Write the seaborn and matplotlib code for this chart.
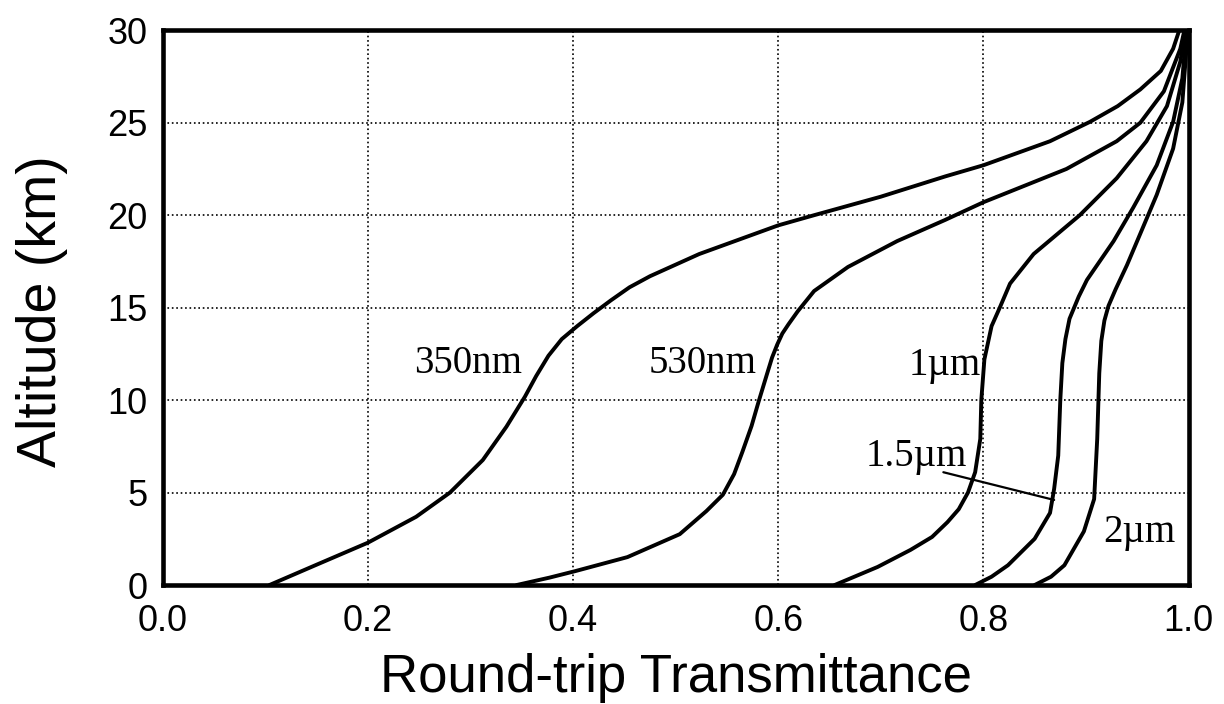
import numpy as np
import pandas as pd
import matplotlib
matplotlib.use("Agg")
import matplotlib.pyplot as plt
import seaborn as sns

# curves: round-trip transmittance vs altitude (km)
t_350 = [0.104, 0.15, 0.20, 0.247, 0.28, 0.312, 0.335, 0.353, 0.364, 0.376, 0.389, 0.404,
         0.42, 0.437, 0.455, 0.475, 0.523, 0.60, 0.635, 0.70, 0.763, 0.80, 0.865, 0.904,
         0.931, 0.953, 0.973, 0.985, 0.991]
z_350 = [0.0, 1.1, 2.29, 3.69, 5.0, 6.76, 8.56, 10.18, 11.3, 12.4, 13.3, 14.0,
         14.7, 15.4, 16.1, 16.7, 17.9, 19.45, 20.0, 21.0, 22.1, 22.7, 24.0, 25.05,
         25.9, 26.8, 27.8, 29.0, 30.0]

t_530 = [0.345, 0.377, 0.402, 0.453, 0.504, 0.53, 0.546, 0.557, 0.565, 0.574, 0.581,
         0.589, 0.594, 0.599, 0.604, 0.61, 0.619, 0.635, 0.668, 0.716, 0.763, 0.80, 0.881,
         0.93, 0.953, 0.976, 0.992, 0.996]
z_530 = [0.0, 0.4, 0.75, 1.51, 2.75, 4.0, 4.88, 6.0, 7.19, 8.6, 9.94,
         11.4, 12.3, 13.0, 13.6, 14.1, 14.8, 15.9, 17.2, 18.6, 19.75, 20.7, 22.5,
         24.0, 25.0, 26.7, 29.0, 30.0]

t_1um = [0.655, 0.697, 0.729, 0.75, 0.765, 0.776, 0.785, 0.792, 0.797, 0.798, 0.801,
         0.808, 0.816, 0.826, 0.849, 0.894, 0.93, 0.959, 0.979, 0.992, 0.997]
z_1um = [0.0, 0.98, 1.9, 2.6, 3.4, 4.1, 5.0, 6.1, 7.9, 10.0, 12.2,
         14.0, 15.0, 16.3, 17.9, 20.0, 22.0, 24.0, 25.9, 28.3, 30.0]

t_15um = [0.792, 0.808, 0.824, 0.85, 0.865, 0.869, 0.873, 0.875, 0.877, 0.880, 0.884,
          0.893, 0.901, 0.927, 0.946, 0.969, 0.985, 0.994, 0.998]
z_15um = [0.0, 0.45, 1.07, 2.5, 3.9, 5.2, 7.0, 10.0, 12.0, 13.3, 14.4,
          15.6, 16.5, 18.6, 20.4, 22.7, 25.05, 27.4, 30.0]

t_2um = [0.85, 0.866, 0.879, 0.898, 0.908, 0.911, 0.913, 0.915, 0.918, 0.922, 0.929,
         0.94, 0.953, 0.969, 0.985, 0.994, 0.998, 0.999]
z_2um = [0.0, 0.45, 1.07, 2.9, 4.65, 7.9, 11.45, 13.2, 14.3, 15.1, 16.0,
         17.3, 19.0, 21.1, 23.6, 26.1, 29.0, 30.0]

bands = ["350nm", "530nm", "1\u00b5m", "1.5\u00b5m", "2\u00b5m"]
series_t = [t_350, t_530, t_1um, t_15um, t_2um]
series_z = [z_350, z_530, z_1um, z_15um, z_2um]

# label anchor (x centre, baseline altitude)
label_x = [0.298, 0.526, 0.762, 0.735, 0.952]
label_z = [11.45, 11.45, 11.35, 6.45, 2.35]

# leader line from the 1.5um label to its curve
leader_t = [0.761, 0.869]
leader_z = [6.1, 4.6]

x_ticks = [0.0, 0.2, 0.4, 0.6, 0.8, 1.0]
y_ticks = [0, 5, 10, 15, 20, 25, 30]

frames = []
for name, t, z in zip(bands, series_t, series_z):
    frames.append(pd.DataFrame({"band": name, "T": t, "alt": z}))
df = pd.concat(frames, ignore_index=True)

sns.set_theme(style="white")
plt.rcParams["font.family"] = ["Liberation Sans", "DejaVu Sans"]

fig = plt.figure(figsize=(12.24, 7.04), dpi=100)
ax = fig.add_axes([0.133, 0.169, 0.838, 0.788])

sns.lineplot(data=df, x="T", y="alt", units="band", estimator=None, sort=False,
             color="black", linewidth=2.8, legend=False, ax=ax,
             solid_joinstyle="round", solid_capstyle="round")
ax.plot(leader_t, leader_z, color="black", linewidth=1.6)

for name, lx, lz in zip(bands, label_x, label_z):
    ax.text(lx, lz, name, ha="center", va="baseline", fontsize=28,
            family=["Liberation Serif", "DejaVu Serif"], color="black")

ax.set_xlim(0, 1)
ax.set_ylim(0, 30)
ax.set_xticks(x_ticks)
ax.set_xticklabels([f"{v:.1f}" for v in x_ticks])
ax.set_yticks(y_ticks)
ax.set_yticklabels([str(v) for v in y_ticks])
ax.tick_params(axis="both", direction="in", colors="black", labelsize=26)
ax.tick_params(axis="x", length=14, width=2, pad=14)
ax.tick_params(axis="y", length=6, width=1.5, pad=11)

ax.grid(True, linestyle=":", color="black", linewidth=1.2)
for sp in ax.spines.values():
    sp.set_visible(True)
    sp.set_color("black")
    sp.set_linewidth(3.3)

ax.set_xlabel("Round-trip Transmittance", fontsize=38, color="black")
ax.xaxis.label.set_va("baseline")
ax.xaxis.set_label_coords(0.5, -0.193)
ax.set_ylabel("Altitude (km)", fontsize=40, color="black")
ax.yaxis.label.set_va("center")
ax.yaxis.set_label_coords(-0.118, 0.494)

fig.savefig("out.png", dpi=100)
